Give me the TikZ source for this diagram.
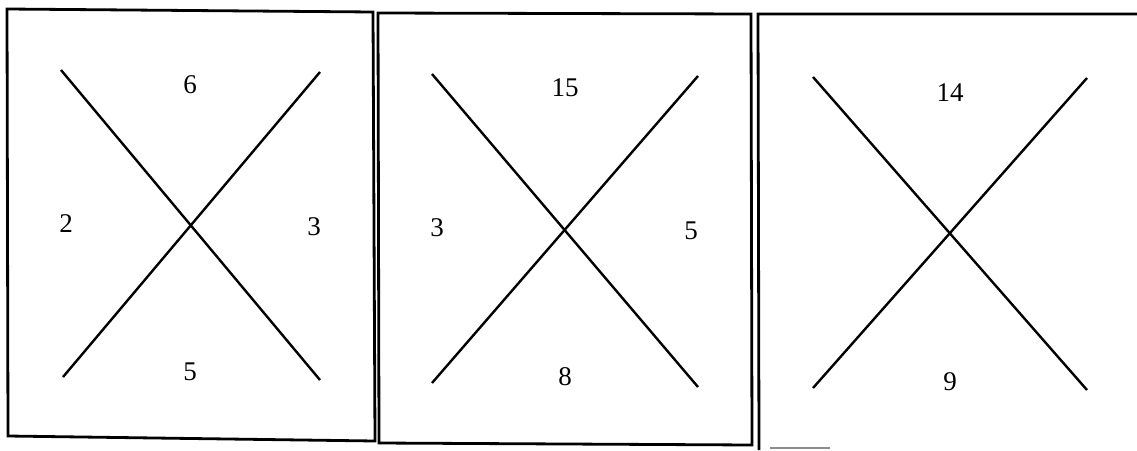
\documentclass[tikz,border=0pt]{standalone}
\usepackage{fontspec}
\setmainfont{Liberation Serif}
\begin{document}
\begin{tikzpicture}[x=1pt,y=-1pt,
  frame/.style={line width=2.8pt,line join=miter},
  cross/.style={line width=2.4pt},
  num/.style={font=\fontsize{27}{30}\selectfont,inner sep=0pt}]
\useasboundingbox (0,0) rectangle (1137,450);
% box 1
\draw[frame] (7,9) -- (373,12) -- (375,441) -- (8,436) -- cycle;
\draw[cross] (61,70) -- (320,380);
\draw[cross] (63,377) -- (320,72);
\node[num] (a1) at (190,85) {6};
\node[num] (a2) at (66,224) {2};
\node[num] (a3) at (314,227) {3};
\node[num] (a4) at (190,372) {5};
% box 2
\draw[frame] (378,13) -- (751,14) -- (752,445) -- (379,443) -- cycle;
\draw[cross] (432,74) -- (698,387);
\draw[cross] (432,383) -- (698,76);
\node[num] (b1) at (565,88) {15};
\node[num] (b2) at (437,228) {3};
\node[num] (b3) at (691,231) {5};
\node[num] (b4) at (565,377) {8};
% box 3
\draw[frame] (1137,14) -- (758,14) -- (759,450);
\draw[line width=1.2pt,black!45] (770,448) -- (830,448);
\draw[cross] (813,77) -- (1087,390);
\draw[cross] (813,388) -- (1087,78);
\node[num] (c1) at (950,93) {14};
\node[num] (c2) at (950,382) {9};
\end{tikzpicture}
\end{document}
